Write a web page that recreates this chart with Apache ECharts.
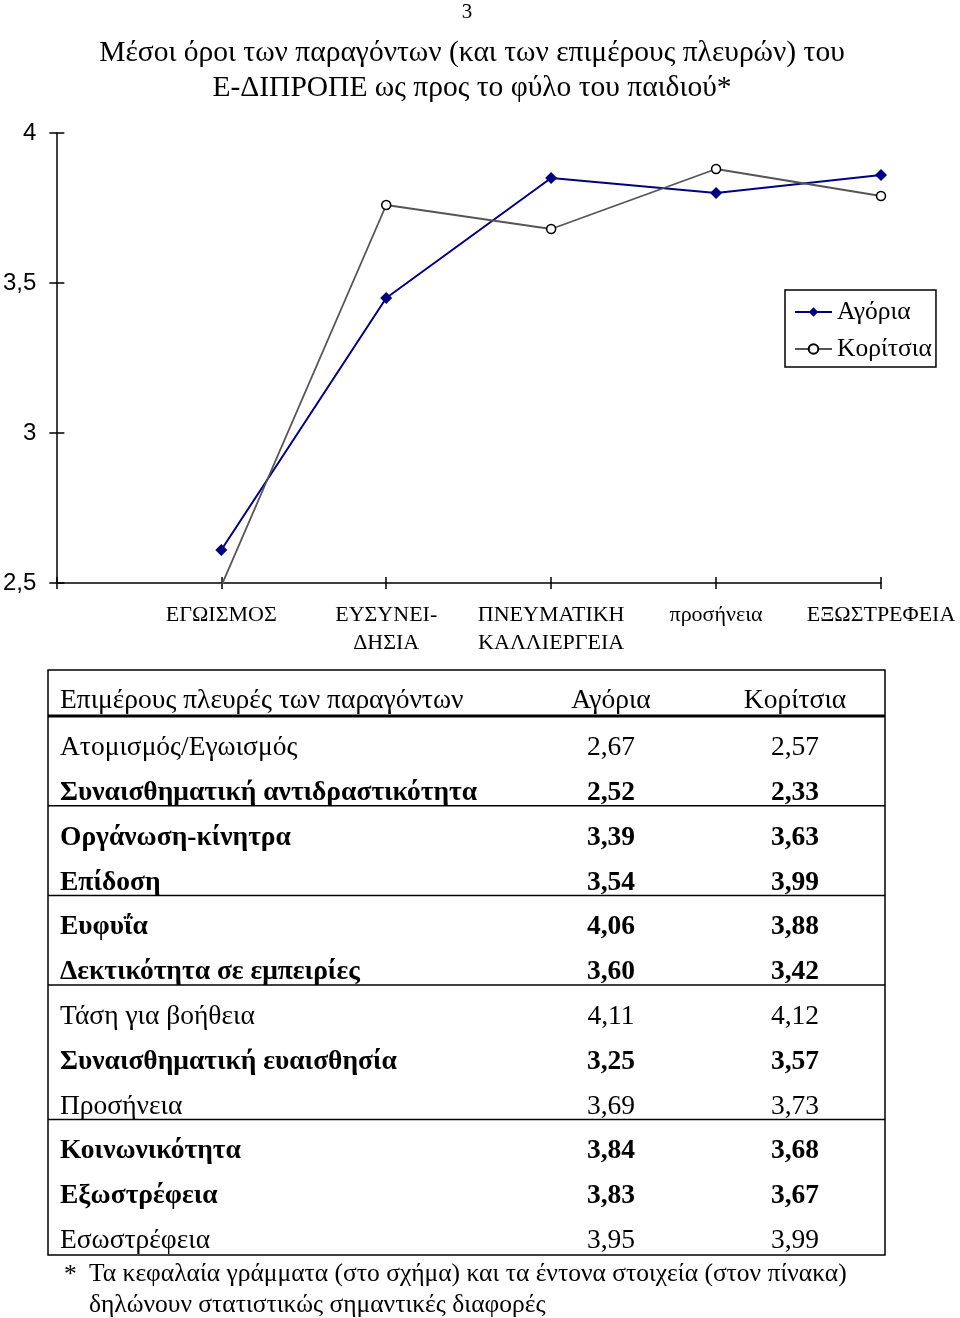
<!DOCTYPE html>
<html>
<head>
<meta charset="utf-8">
<script src="https://cdn.jsdelivr.net/npm/echarts@6/dist/echarts.min.js"></script>
<style>
  html, body { margin: 0; padding: 0; background: #fff; }
  #chart { width: 960px; height: 1318px; }
</style>
</head>
<body>
<div id="chart"></div>
<script>
// chart data (first category is the empty slot at the y axis)
const categories = ['', 'ΕΓΩΙΣΜΟΣ', 'ΕΥΣΥΝΕΙ-\nΔΗΣΙΑ', 'ΠΝΕΥΜΑΤΙΚΗ\nΚΑΛΛΙΕΡΓΕΙΑ', 'προσήνεια', 'ΕΞΩΣΤΡΕΦΕΙΑ']
const boys = [null, 2.61, 3.45, 3.85, 3.80, 3.86]
const girls = [null, 2.49, 3.76, 3.68, 3.88, 3.79]
const seriesNames = ['Αγόρια', 'Κορίτσια']

// table data
const tableHeader = ['Επιμέρους πλευρές των παραγόντων', 'Αγόρια', 'Κορίτσια']
const tableLabels = [
  'Ατομισμός/Εγωισμός', 'Συναισθηματική αντιδραστικότητα',
  'Οργάνωση-κίνητρα', 'Επίδοση',
  'Ευφυΐα', 'Δεκτικότητα σε εμπειρίες',
  'Τάση για βοήθεια', 'Συναισθηματική ευαισθησία', 'Προσήνεια',
  'Κοινωνικότητα', 'Εξωστρέφεια', 'Εσωστρέφεια'
]
const tableBoys = [2.67, 2.52, 3.39, 3.54, 4.06, 3.60, 4.11, 3.25, 3.69, 3.84, 3.83, 3.95]
const tableGirls = [2.57, 2.33, 3.63, 3.99, 3.88, 3.42, 4.12, 3.57, 3.73, 3.68, 3.67, 3.99]
const tableBold = [false, true, true, true, true, true, false, true, false, true, true, false]
const groupEnds = [1, 3, 5, 8]

const serif = '"Liberation Serif", "DejaVu Serif", serif'
const comma = v => v.toFixed(2).replace('.', ',')

const myChart = echarts.init(document.getElementById('chart'))

// table drawn with graphic elements
const tLeft = 48, tRight = 885, tTop = 670, tBottom = 1255
const rowY0 = 747, rowStep = 44.8
const colBoys = 611, colGirls = 795
const graphics = []

const cellText = (text, x, y, align, bold, size) => ({
  type: 'text', x: x, y: y,
  style: {
    text: text, fill: '#000', textAlign: align, textVerticalAlign: 'middle',
    font: (bold ? 'bold ' : '') + (size || 27.5) + 'px ' + serif
  }
})

graphics.push(cellText('3', 467, 12, 'center', false, 21))
graphics.push({
  type: 'rect', shape: { x: tLeft, y: tTop, width: tRight - tLeft, height: tBottom - tTop },
  style: { fill: 'none', stroke: '#000', lineWidth: 1.5 }
})
graphics.push({
  type: 'line', shape: { x1: tLeft, y1: 716, x2: tRight, y2: 716 },
  style: { stroke: '#000', lineWidth: 3 }
})
groupEnds.forEach(i => {
  const y = rowY0 + i * rowStep + 14
  graphics.push({
    type: 'line', shape: { x1: tLeft, y1: y, x2: tRight, y2: y },
    style: { stroke: '#000', lineWidth: 1.5 }
  })
})
graphics.push(cellText(tableHeader[0], 60, 701, 'left', false))
graphics.push(cellText(tableHeader[1], colBoys, 701, 'center', false))
graphics.push(cellText(tableHeader[2], colGirls, 701, 'center', false))
tableLabels.forEach((label, i) => {
  const y = rowY0 + i * rowStep + 1
  graphics.push(cellText(label, 60, y, 'left', tableBold[i]))
  graphics.push(cellText(comma(tableBoys[i]), colBoys, y, 'center', tableBold[i]))
  graphics.push(cellText(comma(tableGirls[i]), colGirls, y, 'center', tableBold[i]))
})
graphics.push(cellText('*', 64, 1275, 'left', false, 25.5))
graphics.push(cellText('Τα κεφαλαία γράμματα (στο σχήμα) και τα έντονα στοιχεία (στον πίνακα)', 89, 1274, 'left', false, 25.5))
graphics.push(cellText('δηλώνουν στατιστικώς σημαντικές διαφορές', 89, 1305, 'left', false, 25.5))

const option = {
  animation: false,
  backgroundColor: '#fff',
  title: {
    text: 'Μέσοι όροι των παραγόντων (και των επιμέρους πλευρών) του\nΕ-ΔΙΠΡΟΠΕ ως προς το φύλο του παιδιού*',
    left: 467,
    top: 31,
    textAlign: 'center',
    textStyle: { fontFamily: serif, fontWeight: 'normal', fontSize: 29.5, lineHeight: 35, color: '#000' }
  },
  legend: {
    orient: 'vertical',
    left: 785,
    top: 290,
    data: seriesNames,
    backgroundColor: '#fff',
    borderColor: '#000',
    borderWidth: 1.5,
    borderRadius: 0,
    padding: [9, 4, 5, 9],
    itemWidth: 37,
    itemHeight: 12,
    itemGap: 11,
    textStyle: { fontFamily: serif, fontSize: 25.5, color: '#000' }
  },
  grid: { left: 54, top: 133, width: 827, height: 450 },
  xAxis: [{
    type: 'category',
    data: categories,
    boundaryGap: false,
    axisLine: { lineStyle: { color: '#000', width: 1.5 } },
    axisTick: { length: 6, lineStyle: { color: '#000', width: 1.5 } },
    axisLabel: { fontFamily: serif, fontSize: 22, lineHeight: 28, color: '#000', margin: 18, interval: 0 }
  }, {
    type: 'category',
    data: categories,
    boundaryGap: false,
    position: 'bottom',
    axisLine: { show: false },
    axisTick: { inside: true, length: 6, lineStyle: { color: '#000', width: 1.5 } },
    axisLabel: { show: false }
  }],
  yAxis: [{
    type: 'value',
    min: 2.5,
    max: 4,
    interval: 0.5,
    axisLine: { show: true, lineStyle: { color: '#000', width: 1.5 } },
    axisTick: { show: true, length: 7, lineStyle: { color: '#000', width: 1.5 } },
    splitLine: { show: false },
    axisLabel: {
      fontFamily: '"Liberation Sans", Arial, sans-serif', fontSize: 24, color: '#000', margin: 20,
      formatter: v => String(v).replace('.', ',')
    }
  }, {
    type: 'value',
    min: 2.5,
    max: 4,
    interval: 0.5,
    position: 'left',
    axisLine: { show: false },
    axisTick: { show: true, inside: true, length: 8, lineStyle: { color: '#000', width: 1.5 } },
    splitLine: { show: false },
    axisLabel: { show: false }
  }],
  series: [{
    name: seriesNames[0],
    type: 'line',
    data: boys,
    symbol: 'diamond',
    symbolSize: 12,
    itemStyle: { color: '#000080' },
    lineStyle: { color: '#000080', width: 2 }
  }, {
    name: seriesNames[1],
    type: 'line',
    data: girls,
    symbol: 'circle',
    symbolSize: 9,
    itemStyle: { color: '#fff', borderColor: '#000', borderWidth: 1.5 },
    lineStyle: { color: '#555', width: 1.8 }
  }],
  graphic: graphics
}
myChart.setOption(option)
</script>
</body>
</html>
